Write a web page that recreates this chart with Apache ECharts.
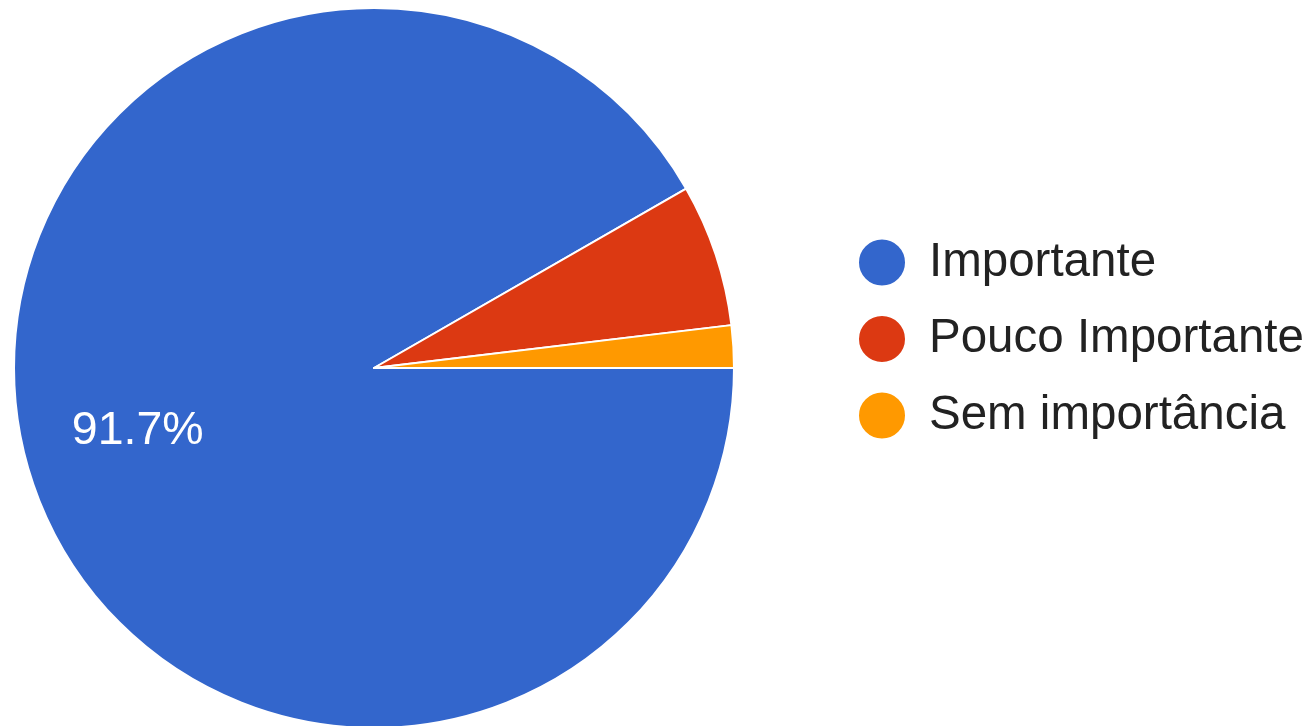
<!DOCTYPE html>
<html>
<head>
<meta charset="utf-8">
<script src="https://cdn.jsdelivr.net/npm/echarts@6/dist/echarts.min.js"></script>
<style>
  html, body { margin: 0; padding: 0; background: #fff; }
  #chart { width: 1314px; height: 726px; }
</style>
</head>
<body>
<div id="chart"></div>
<script>
const categories = ['Importante', 'Pouco Importante', 'Sem importância'];
const percentages = [91.7, 6.4, 1.9];
const colors = ['#3366CC', '#DC3912', '#FF9900'];

const FONT = "'Liberation Sans', Arial, sans-serif";
const pieData = categories.map((name, i) => ({
  name: name,
  value: percentages[i],
  itemStyle: { color: colors[i] }
}));

const chart = echarts.init(document.getElementById('chart'));
chart.setOption({
  animation: false,
  backgroundColor: '#ffffff',
  legend: {
    orient: 'vertical',
    left: 857,
    top: 237.5,
    padding: 0,
    icon: 'circle',
    itemWidth: 48,
    itemHeight: 48,
    itemGap: 26.5,
    data: categories,
    textStyle: {
      fontFamily: FONT,
      fontSize: 47.5,
      lineHeight: 48,
      color: '#222222',
      padding: [0, 0, 0, 18]
    }
  },
  series: [
    {
      type: 'pie',
      center: [374, 368],
      radius: [0, 360],
      startAngle: 0,
      clockwise: true,
      silent: true,
      percentPrecision: 1,
      itemStyle: { borderColor: '#ffffff', borderWidth: 2 },
      label: { show: false },
      labelLine: { show: false },
      data: pieData
    },
    {
      type: 'pie',
      center: [374, 368],
      radius: [123, 360],
      startAngle: 0,
      clockwise: true,
      silent: true,
      percentPrecision: 1,
      legendHoverLink: false,
      itemStyle: { color: 'rgba(0,0,0,0)', borderWidth: 0 },
      emphasis: { disabled: true },
      labelLine: { show: false },
      label: {
        position: 'inside',
        fontFamily: FONT,
        fontSize: 46.5,
        color: '#ffffff',
        formatter: function (p) {
          return p.dataIndex === 0 ? p.percent.toFixed(1) + '%' : '';
        }
      },
      data: categories.map((name, i) => ({
        name: name + ' ',
        value: percentages[i]
      }))
    }
  ]
});
</script>
</body>
</html>
